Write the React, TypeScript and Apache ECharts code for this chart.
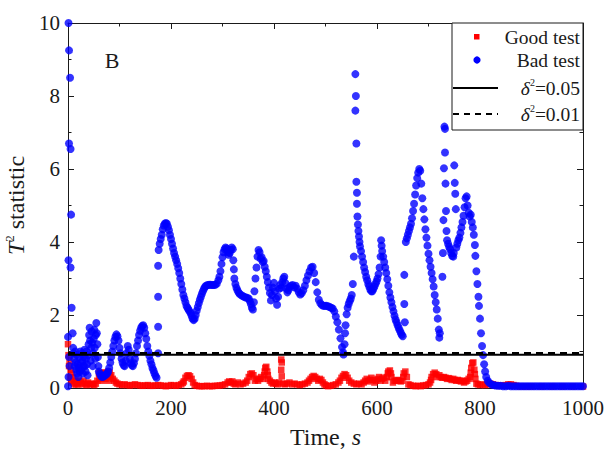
import React, { useEffect, useRef } from "react";
import * as echarts from "echarts";

// ---- data ----
const xTicks = [0, 200, 400, 600, 800, 1000];
const yTicks = [0, 2, 4, 6, 8, 10];
const limitSolid = 0.91; // δ²=0.05
const limitDashed = 0.96; // δ²=0.01
const panelLabel = "B";

const goodTest: [number, number][] = [
  [0, 1.2], [1, 0.9], [2, 0.6], [3, 0.75], [4, 0.3], [5, 0.5], [6, 0.2], [7, 0.4], [8, 0.15], [10, 0.3],
  [12, 0.1], [14, 0.2], [16, 0.1], [18, 0.15], [20, 0.1], [22, 0.2], [25, 0.15], [28, 0.1], [30, 0.2],
  [33, 0.12], [36, 0.08], [39, 0.15], [42, 0.1], [45, 0.12], [48, 0.1], [51, 0.08], [54, 0.12], [57, 0.2],
  [60, 0.4], [61, 0.25], [63, 0.42], [64, 0.3], [66, 0.4], [67, 0.2], [69, 0.42], [70, 0.3], [72, 0.4],
  [73, 0.25], [75, 0.42], [76, 0.3], [78, 0.45], [79, 0.2], [81, 0.42], [82, 0.3], [84, 0.35],
  [87, 0.25], [90, 0.2], [93, 0.15], [96, 0.12], [100, 0.1], [105, 0.08], [110, 0.1], [115, 0.08],
  [120, 0.07], [125, 0.08], [130, 0.1], [135, 0.08], [140, 0.07], [145, 0.06], [150, 0.07], [155, 0.08],
  [160, 0.06], [165, 0.06], [170, 0.07], [175, 0.08], [180, 0.07], [185, 0.06], [190, 0.05], [195, 0.06],
  [200, 0.08], [205, 0.07], [210, 0.06], [215, 0.08], [220, 0.1], [223, 0.14], [225, 0.18], [228, 0.28],
  [231, 0.33], [234, 0.35], [237, 0.32], [240, 0.25], [243, 0.15], [246, 0.08], [250, 0.06], [255, 0.05],
  [260, 0.05], [265, 0.05], [270, 0.06], [275, 0.05], [280, 0.05], [285, 0.06], [290, 0.06], [295, 0.07],
  [300, 0.08], [305, 0.1], [310, 0.15], [313, 0.18], [316, 0.15], [319, 0.18], [322, 0.12], [325, 0.1],
  [330, 0.15], [335, 0.1], [340, 0.12], [345, 0.15], [348, 0.2], [351, 0.3], [354, 0.38], [357, 0.4],
  [360, 0.35], [363, 0.2], [366, 0.25], [369, 0.2], [372, 0.25], [375, 0.3], [378, 0.25], [381, 0.35],
  [382, 0.45], [383, 0.55], [385, 0.58], [387, 0.45], [388, 0.35], [389, 0.25], [392, 0.2], [395, 0.15],
  [398, 0.12], [401, 0.15], [404, 0.12], [407, 0.1], [410, 0.15], [414, 0.78], [415, 0.7], [414, 0.5],
  [415, 0.32], [418, 0.12], [421, 0.1], [425, 0.12], [430, 0.15], [435, 0.1], [440, 0.12], [445, 0.1],
  [450, 0.08], [455, 0.1], [460, 0.12], [465, 0.15], [468, 0.2], [471, 0.25], [474, 0.3], [477, 0.33],
  [480, 0.3], [483, 0.25], [486, 0.2], [489, 0.25], [492, 0.22], [495, 0.15], [498, 0.1], [501, 0.07],
  [505, 0.05], [510, 0.06], [515, 0.08], [520, 0.1], [525, 0.15], [528, 0.2], [531, 0.28], [534, 0.33],
  [537, 0.38], [540, 0.35], [543, 0.28], [546, 0.2], [550, 0.15], [555, 0.12], [560, 0.1], [565, 0.12],
  [570, 0.1], [574, 0.15], [577, 0.2], [580, 0.25], [583, 0.18], [586, 0.22], [589, 0.28], [592, 0.22],
  [595, 0.15], [598, 0.2], [601, 0.25], [604, 0.3], [607, 0.2], [610, 0.25], [613, 0.28], [616, 0.2],
  [619, 0.3], [621, 0.4], [622, 0.45], [625, 0.48], [627, 0.4], [628, 0.3], [631, 0.15], [634, 0.2],
  [637, 0.2], [640, 0.22], [643, 0.2], [646, 0.18], [649, 0.2], [651, 0.3], [652, 0.4], [655, 0.45],
  [658, 0.3], [661, 0.1], [665, 0.08], [670, 0.06], [675, 0.05], [680, 0.06], [685, 0.05], [690, 0.07],
  [695, 0.08], [700, 0.1], [703, 0.15], [705, 0.22], [706, 0.3], [709, 0.38], [712, 0.42], [715, 0.38],
  [718, 0.3], [721, 0.35], [724, 0.3], [727, 0.28], [730, 0.3], [733, 0.28], [736, 0.25], [739, 0.27],
  [742, 0.25], [745, 0.22], [748, 0.25], [751, 0.22], [754, 0.2], [757, 0.22], [760, 0.2], [763, 0.18],
  [766, 0.2], [769, 0.15], [772, 0.18], [775, 0.2], [778, 0.25], [781, 0.3], [782, 0.42], [783, 0.55],
  [785, 0.68], [787, 0.7], [789, 0.5], [790, 0.38], [791, 0.25], [793, 0.12], [796, 0.1], [800, 0.08],
  [805, 0.1], [810, 0.08], [815, 0.1], [820, 0.12], [825, 0.1], [830, 0.08], [835, 0.07], [840, 0.06],
  [845, 0.07], [850, 0.08], [855, 0.1], [860, 0.1], [865, 0.08], [870, 0.06], [880, 0.04], [890, 0.04],
  [900, 0.04], [920, 0.04], [940, 0.04], [960, 0.04], [980, 0.04], [1000, 0.04],
];

const badTestStart: [number, number][] = [
  [0, 0.05], [1, 10], [2, 9.25], [4, 8.5], [2, 6.7], [5, 6.55], [6, 4.75], [1, 3.5], [5, 3.3], [7, 2.2],
  [9, 1.5], [0, 1.4], [10, 1.1], [2, 0.85], [1, 0.3], [3, 0.6],
  [11, 0.95], [12, 0.8], [13, 0.6], [14, 1.0], [15, 0.7], [16, 0.5], [17, 0.9], [18, 0.4], [19, 0.65],
  [20, 0.3], [21, 0.55], [22, 0.85], [23, 0.45], [24, 1.0], [25, 0.7], [26, 0.5], [27, 0.95], [28, 0.75],
  [29, 0.4], [30, 0.6], [31, 0.85], [32, 1.05], [33, 0.6], [34, 0.45], [35, 0.8], [36, 1.0], [37, 0.65],
  [38, 0.35], [39, 0.9], [40, 1.2], [41, 1.45], [42, 1.65], [43, 1.3], [44, 0.75], [45, 1.1], [46, 1.55],
  [47, 1.25], [48, 0.6], [49, 0.95], [50, 1.35], [51, 1.6], [52, 1.1], [53, 0.8], [54, 1.45], [55, 1.78],
  [56, 1.5], [57, 1.2], [58, 0.85], [59, 0.6], [60, 0.45],
  [62, 0.38], [64, 0.33], [66, 0.3], [68, 0.31], [70, 0.33], [72, 0.35], [74, 0.37], [76, 0.4], [78, 0.45],
  [80, 0.55], [82, 0.7], [84, 0.85], [86, 1.0], [88, 1.15], [90, 1.3], [92, 1.4], [94, 1.47], [96, 1.42],
  [98, 1.3], [100, 1.1], [102, 0.95], [104, 0.8], [106, 0.7], [108, 0.62], [110, 0.6], [112, 0.75],
  [114, 0.95], [116, 1.15], [118, 1.05], [120, 0.8], [122, 0.68], [124, 0.62], [126, 0.6], [128, 0.68],
  [130, 0.8], [132, 0.95], [134, 1.15], [136, 1.3], [138, 1.45], [140, 1.57], [142, 1.65], [144, 1.7],
  [146, 1.72], [148, 1.65], [150, 1.5], [152, 1.35], [154, 1.15], [156, 1.0], [158, 0.88], [160, 0.75],
  [162, 0.65], [164, 0.55], [166, 0.48], [168, 0.4], [170, 0.33], [172, 0.28],
];

const badTestMiddle: [number, number][] = [
  [175, 0.95], [175, 1.68], [175, 2.5], [175, 3.35], [176, 3.78], [178, 3.95], [180, 4.08], [182, 4.2],
  [184, 4.35], [186, 4.45], [188, 4.5], [190, 4.52], [192, 4.5], [194, 4.42], [196, 4.32], [198, 4.2],
  [200, 4.08], [202, 3.95], [204, 3.82], [206, 3.7], [208, 3.6], [210, 3.5], [212, 3.4], [214, 3.28],
  [216, 3.15], [218, 3.0], [220, 2.85], [222, 2.7], [224, 2.55], [226, 2.45], [228, 2.35], [230, 2.25],
  [232, 2.2], [234, 2.15], [236, 2.1], [238, 2.05], [240, 1.98], [242, 1.9], [244, 1.86], [246, 1.9],
  [248, 2.0], [250, 2.12], [252, 2.22], [254, 2.32], [256, 2.42], [258, 2.5], [260, 2.58], [262, 2.65],
  [264, 2.72], [266, 2.77], [268, 2.8], [271, 2.82], [274, 2.83], [277, 2.83], [280, 2.82], [283, 2.82],
  [286, 2.83], [289, 2.86], [292, 2.95], [294, 3.05], [296, 3.2], [298, 3.4], [300, 3.58], [302, 3.72],
  [304, 3.8], [306, 3.85], [308, 3.82], [310, 3.72], [312, 3.65], [314, 3.7], [316, 3.78], [318, 3.85],
  [320, 3.8], [321, 3.5], [322, 3.25], [323, 3.0], [325, 2.85], [327, 2.75], [329, 2.68], [331, 2.62],
  [333, 2.58], [336, 2.55], [339, 2.52], [342, 2.5], [345, 2.48], [348, 2.47], [351, 2.45], [353, 2.38],
  [355, 2.3], [357, 2.2], [359, 2.15], [361, 2.35], [362, 2.65], [364, 3.0], [366, 3.3], [368, 3.6],
  [370, 3.78], [372, 3.72], [374, 3.55], [376, 3.58], [378, 3.45], [380, 3.48], [382, 3.32], [384, 3.2],
  [386, 3.05], [388, 2.9], [390, 2.75], [392, 2.6], [394, 2.4], [396, 2.55], [398, 2.75], [400, 2.88],
  [402, 2.65], [404, 2.45], [406, 2.28], [408, 2.5], [410, 2.72], [412, 2.82], [414, 2.75], [416, 2.9],
  [418, 3.0], [420, 3.05], [422, 2.88], [424, 2.72], [426, 2.62], [428, 2.68], [430, 2.76], [433, 2.8],
  [436, 2.82], [439, 2.76], [442, 2.8], [445, 2.72], [448, 2.62], [451, 2.56], [454, 2.6], [457, 2.68],
  [460, 2.8], [463, 2.95], [466, 3.08], [469, 3.2], [472, 3.3], [475, 3.32], [478, 3.15], [481, 2.9],
  [484, 2.62], [487, 2.42], [490, 2.32], [493, 2.27], [496, 2.25], [499, 2.25], [502, 2.25], [505, 2.24],
  [508, 2.22], [511, 2.2], [514, 2.18], [517, 2.1], [520, 1.96], [523, 1.8], [526, 1.6], [529, 1.36],
  [532, 1.12], [534, 0.98], [535, 0.92], [537, 1.2], [538, 1.5], [539, 1.72], [541, 2.02], [543, 2.2],
  [545, 2.3], [547, 2.38], [549, 2.45], [551, 2.55], [553, 2.85], [555, 3.6],
];

const badTestLate: [number, number][] = [
  [558, 8.6], [559, 8.0], [558, 7.6], [560, 6.7], [560, 5.65], [561, 5.35], [561, 5.05], [562, 4.7],
  [563, 4.48], [564, 4.3], [565, 4.15], [566, 4.0], [567, 3.88], [569, 3.75], [571, 3.6], [573, 3.45],
  [575, 3.3], [577, 3.18], [579, 3.05], [581, 2.95], [583, 2.85], [585, 2.78], [587, 2.7], [589, 2.65],
  [591, 2.65], [593, 2.72], [595, 2.78], [597, 2.85], [599, 2.92], [601, 3.0], [603, 3.12], [605, 3.3],
  [607, 3.6], [608, 4.05], [609, 3.9], [610, 3.75], [612, 3.6], [614, 3.45], [616, 3.3], [618, 3.15],
  [620, 2.98], [622, 2.8], [624, 2.62], [626, 2.48], [628, 2.35], [630, 2.22], [632, 2.1], [634, 1.98],
  [636, 1.88], [638, 1.8], [640, 1.72], [642, 1.65], [644, 1.58], [646, 1.52], [648, 1.46], [650, 1.42],
  [653, 3.1], [653, 2.3], [654, 1.8],
  [656, 4.0], [658, 4.1], [660, 4.2], [662, 4.3], [664, 4.4], [666, 4.5], [668, 4.65], [670, 4.85],
  [672, 5.05], [674, 5.3], [676, 5.55], [678, 5.75], [680, 5.9], [682, 6.0], [684, 5.95], [686, 5.6],
  [688, 5.2], [690, 4.9], [692, 4.62], [694, 4.35], [696, 4.12], [698, 3.9], [700, 3.68], [702, 3.5],
  [704, 3.32], [706, 3.15], [708, 2.98], [710, 2.78], [712, 2.55], [714, 2.35], [716, 2.15], [718, 1.9],
  [720, 1.6], [721, 1.38], [722, 1.5],
  [727, 3.05], [728, 3.7], [729, 4.6], [730, 6.02], [731, 7.16], [732, 7.1], [732, 6.45], [733, 5.6],
  [734, 4.85], [735, 4.3], [736, 4.05], [738, 3.95], [740, 3.87], [742, 3.8], [744, 3.7], [746, 3.62],
  [748, 3.6], [749, 3.7], [750, 6.1], [751, 5.62], [752, 5.32], [753, 4.9], [754, 3.85], [756, 3.95],
  [758, 4.05], [760, 4.12], [762, 4.25], [764, 4.4], [766, 4.55], [768, 4.72], [770, 4.95], [772, 5.2],
  [774, 5.25], [776, 5.0], [778, 4.8], [780, 4.7], [782, 4.75], [784, 4.55], [786, 4.4], [788, 4.2],
  [790, 3.92], [791, 3.62], [793, 3.2], [795, 2.85], [797, 2.5], [798, 2.25], [800, 1.9], [802, 1.5],
  [804, 1.15], [806, 0.9], [808, 0.65], [810, 0.45], [812, 0.3], [815, 0.2], [818, 0.14], [822, 0.1],
  [826, 0.08], [830, 0.07], [835, 0.06], [840, 0.06], [845, 0.05], [850, 0.05], [855, 0.06], [860, 0.05],
  [865, 0.05], [870, 0.05], [875, 0.05], [880, 0.05], [885, 0.05], [890, 0.05], [895, 0.05], [900, 0.05],
  [905, 0.05], [910, 0.05], [915, 0.05], [920, 0.05], [925, 0.05], [930, 0.05], [935, 0.05], [940, 0.05],
  [945, 0.05], [950, 0.05], [955, 0.05], [960, 0.05], [965, 0.05], [970, 0.05], [975, 0.05], [980, 0.05],
  [985, 0.05], [990, 0.05], [995, 0.05], [1000, 0.05],
];

const SERIF = "Liberation Serif";
const INK = "#1a1a1a";

export default function App() {
  const ref = useRef<HTMLDivElement>(null);

  useEffect(() => {
    document.body.style.margin = "0";
    if (!ref.current) return;
    const chart = echarts.init(ref.current, undefined, { renderer: "svg" });

    const axisCommon = {
      type: "value" as const,
      axisLine: { show: true, onZero: false, lineStyle: { color: INK, width: 1 } },
      axisTick: { show: true, inside: true, length: 6, lineStyle: { color: INK, width: 1 } },
      minorTick: { show: true, splitNumber: 2, length: 3.5, lineStyle: { color: INK, width: 1 } },
      splitLine: { show: false },
    };

    const labelStyle = {
      fontSize: 21,
      fontFamily: SERIF,
      color: INK,
      formatter: (v: number) => String(v),
    };

    const richSerif = (extra: any = {}) => ({ fontFamily: SERIF, color: INK, ...extra });

    const option: any = {
      animation: false,
      grid: {
        left: 68,
        right: 21,
        top: 23,
        bottom: 63,
        containLabel: false,
        outerBoundsMode: "none",
      },
      xAxis: [
        {
          ...axisCommon,
          position: "bottom",
          min: xTicks[0],
          max: xTicks[xTicks.length - 1],
          interval: xTicks[1] - xTicks[0],
          axisLabel: { ...labelStyle, margin: 9, showMinLabel: true, showMaxLabel: true },
          name: "{n|Time, }{i|s}",
          nameLocation: "middle",
          nameGap: 37,
          nameTextStyle: {
            fontSize: 24,
            fontFamily: SERIF,
            color: INK,
            rich: {
              n: richSerif({ fontSize: 24 }),
              i: richSerif({ fontSize: 24, fontStyle: "italic" }),
            },
          },
        },
        {
          ...axisCommon,
          position: "top",
          min: xTicks[0],
          max: xTicks[xTicks.length - 1],
          interval: xTicks[1] - xTicks[0],
          axisLabel: { show: false },
        },
      ],
      yAxis: [
        {
          ...axisCommon,
          position: "left",
          min: yTicks[0],
          max: yTicks[yTicks.length - 1],
          interval: yTicks[1] - yTicks[0],
          axisLabel: { ...labelStyle, margin: 8, showMinLabel: true, showMaxLabel: true },
          name: "{i|T}{s|2}{n| statistic}",
          nameLocation: "middle",
          nameGap: 31,
          nameTextStyle: {
            fontSize: 24,
            fontFamily: SERIF,
            color: INK,
            rich: {
              i: richSerif({ fontSize: 24, lineHeight: 26, fontStyle: "italic" }),
              s: richSerif({ fontSize: 13, lineHeight: 14, verticalAlign: "top" }),
              n: richSerif({ fontSize: 24, lineHeight: 26 }),
            },
          },
        },
        {
          ...axisCommon,
          position: "right",
          min: yTicks[0],
          max: yTicks[yTicks.length - 1],
          interval: yTicks[1] - yTicks[0],
          axisLabel: { show: false },
        },
      ],
      series: [
        {
          name: "Good test",
          type: "scatter",
          xAxisIndex: 0,
          yAxisIndex: 0,
          symbol: "rect",
          symbolSize: 6.5,
          itemStyle: { color: "#ff0000" },
          data: goodTest,
          z: 2,
        },
        {
          name: "Bad test",
          type: "scatter",
          xAxisIndex: 0,
          yAxisIndex: 0,
          symbol: "circle",
          symbolSize: 8,
          itemStyle: { color: "#0000ff" },
          data: [...badTestStart, ...badTestMiddle, ...badTestLate],
          z: 3,
        },
        {
          name: "δ²=0.05",
          type: "line",
          xAxisIndex: 0,
          yAxisIndex: 0,
          showSymbol: false,
          symbol: "none",
          lineStyle: { color: "#000", width: 2 },
          data: [
            [xTicks[0], limitSolid],
            [xTicks[xTicks.length - 1], limitSolid],
          ],
          z: 4,
        },
        {
          name: "δ²=0.01",
          type: "line",
          xAxisIndex: 0,
          yAxisIndex: 0,
          showSymbol: false,
          symbol: "none",
          lineStyle: { color: "#000", width: 2, type: [7, 5] },
          data: [
            [xTicks[0], limitDashed],
            [xTicks[xTicks.length - 1], limitDashed],
          ],
          z: 5,
        },
      ],
      graphic: [
        {
          type: "text",
          x: 112,
          y: 60,
          style: {
            text: panelLabel,
            fontSize: 22,
            fontFamily: SERIF,
            fill: INK,
            align: "center",
            verticalAlign: "middle",
          },
          z: 10,
        },
        {
          type: "group",
          z: 100,
          children: [
            {
              type: "rect",
              shape: { x: 452, y: 23, width: 131, height: 107 },
              style: { fill: "#fff", stroke: INK, lineWidth: 1 },
              z: 100,
            },
            {
              type: "rect",
              shape: { x: 474, y: 34, width: 5.5, height: 5.5 },
              style: { fill: "#ff0000" },
              z: 101,
            },
            {
              type: "circle",
              shape: { cx: 477, cy: 60, r: 3.6 },
              style: { fill: "#0000ff" },
              z: 101,
            },
            {
              type: "line",
              shape: { x1: 453, y1: 88, x2: 498, y2: 88 },
              style: { stroke: "#000", lineWidth: 2 },
              z: 101,
            },
            {
              type: "line",
              shape: { x1: 453, y1: 114, x2: 498, y2: 114 },
              style: { stroke: "#000", lineWidth: 2, lineDash: [6, 5] },
              z: 101,
            },
            {
              type: "text",
              x: 580,
              y: 37,
              style: {
                text: "Good test",
                fontSize: 19.5,
                fontFamily: SERIF,
                fill: INK,
                align: "right",
                verticalAlign: "middle",
              },
              z: 101,
            },
            {
              type: "text",
              x: 580,
              y: 60,
              style: {
                text: "Bad test",
                fontSize: 19.5,
                fontFamily: SERIF,
                fill: INK,
                align: "right",
                verticalAlign: "middle",
              },
              z: 101,
            },
            {
              type: "text",
              x: 580,
              y: 88,
              style: {
                text: "{i|δ}{s|2}{n|=0.05}",
                fontSize: 19.5,
                fontFamily: SERIF,
                fill: INK,
                align: "right",
                verticalAlign: "middle",
                rich: {
                  i: { fontSize: 19.5, lineHeight: 22, fontFamily: SERIF, fill: INK, fontStyle: "italic" },
                  s: { fontSize: 10, lineHeight: 11, fontFamily: SERIF, fill: INK, verticalAlign: "top" },
                  n: { fontSize: 19.5, lineHeight: 22, fontFamily: SERIF, fill: INK },
                },
              },
              z: 101,
            },
            {
              type: "text",
              x: 580,
              y: 114,
              style: {
                text: "{i|δ}{s|2}{n|=0.01}",
                fontSize: 19.5,
                fontFamily: SERIF,
                fill: INK,
                align: "right",
                verticalAlign: "middle",
                rich: {
                  i: { fontSize: 19.5, lineHeight: 22, fontFamily: SERIF, fill: INK, fontStyle: "italic" },
                  s: { fontSize: 10, lineHeight: 11, fontFamily: SERIF, fill: INK, verticalAlign: "top" },
                  n: { fontSize: 19.5, lineHeight: 22, fontFamily: SERIF, fill: INK },
                },
              },
              z: 101,
            },
          ],
        },
      ],
    };

    chart.setOption(option);
    return () => {
      chart.dispose();
    };
  }, []);

  return <div ref={ref} style={{ width: 604, height: 451 }} />;
}
